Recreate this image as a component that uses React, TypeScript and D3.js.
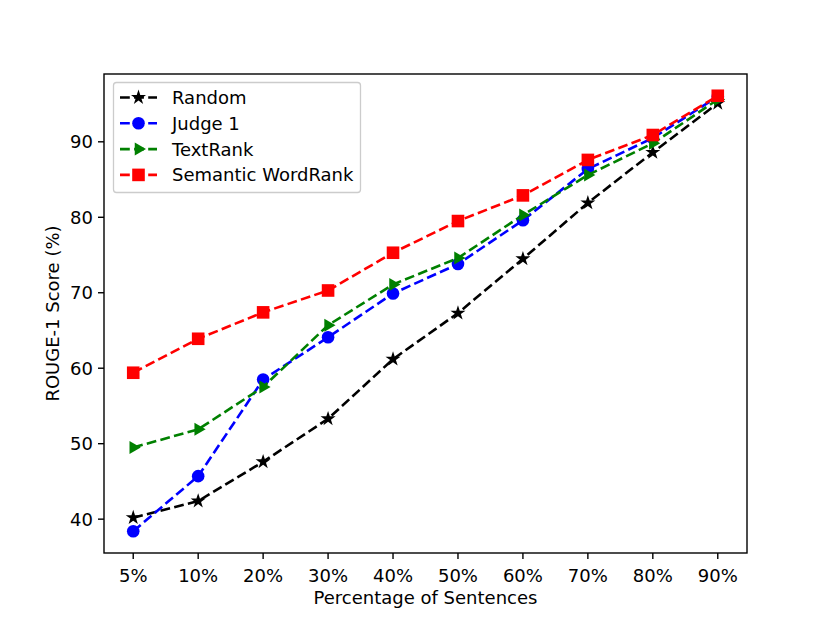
import React from "react";
import * as d3 from "d3";

const categories = ["5%", "10%", "20%", "30%", "40%", "50%", "60%", "70%", "80%", "90%"];
const randomScores = [40.2, 42.4, 47.6, 53.3, 61.2, 67.3, 74.5, 81.9, 88.6, 95.1];
const judge1Scores = [38.4, 45.7, 58.5, 64.1, 69.9, 73.8, 79.6, 86.4, 90.5, 96.0];
const textRankScores = [49.5, 51.9, 57.5, 65.7, 71.1, 74.6, 80.3, 85.6, 89.8, 95.6];
const semanticScores = [59.4, 63.9, 67.4, 70.3, 75.3, 79.5, 82.9, 87.6, 90.9, 96.1];
const yTicks = [40, 50, 60, 70, 80, 90];

const seriesList = [
  { name: "Random", values: randomScores, color: "#000000", marker: "star" },
  { name: "Judge 1", values: judge1Scores, color: "#0000ff", marker: "circle" },
  { name: "TextRank", values: textRankScores, color: "#008000", marker: "triangle" },
  { name: "Semantic WordRank", values: semanticScores, color: "#ff0000", marker: "square" },
];

const W = 830;
const H = 622;
const left = 104;
const right = 747;
const top = 74;
const bottom = 553;
const FONT = "'DejaVu Sans', sans-serif";
const FS = 18;

function Marker({ type, x, y, color }: { type: string; x: number; y: number; color: string }) {
  if (type === "circle") return <circle cx={x} cy={y} r={6.3} fill={color} />;
  if (type === "square") return <rect x={x - 6.3} y={y - 6.3} width={12.6} height={12.6} fill={color} />;
  if (type === "triangle") {
    const r = 7.5;
    return <path d={`M${x + r},${y} L${x - r * 0.5},${y - r * 0.866} L${x - r * 0.5},${y + r * 0.866} Z`} fill={color} />;
  }
  const p = d3.symbol().type(d3.symbolStar).size(70)();
  return <path d={p || ""} transform={`translate(${x},${y})`} fill={color} />;
}

export default function App() {
  const allVals = seriesList.flatMap((s) => s.values);
  const mn = d3.min(allVals)!;
  const mx = d3.max(allVals)!;
  const pad = (mx - mn) * 0.05;
  const x = d3.scaleLinear().domain([-0.45, categories.length - 1 + 0.45]).range([left, right]);
  const y = d3.scaleLinear().domain([mn - pad, mx + pad]).range([bottom, top]);
  const line = d3
    .line<number>()
    .x((_, i) => x(i))
    .y((d) => y(d));

  return (
    <svg width={W} height={H} style={{ display: "block", position: "absolute", left: 0, top: 0 }} fontFamily={FONT}>
      <rect width={W} height={H} fill="#fff" />
      {seriesList.map((s) => (
        <g key={s.name}>
          <path d={line(s.values) || ""} fill="none" stroke={s.color} strokeWidth={2.6} strokeDasharray="9.8,4.3" />
          {s.values.map((v, i) => (
            <Marker key={i} type={s.marker} x={x(i)} y={y(v)} color={s.color} />
          ))}
        </g>
      ))}
      <rect x={left} y={top} width={right - left} height={bottom - top} fill="none" stroke="#000" strokeWidth={1.4} />
      {categories.map((c, i) => (
        <g key={c}>
          <line x1={x(i)} x2={x(i)} y1={bottom} y2={bottom + 6} stroke="#000" strokeWidth={1.4} />
          <text x={x(i)} y={bottom + 29} textAnchor="middle" fontSize={FS} fill="#000">
            {c}
          </text>
        </g>
      ))}
      {yTicks.map((t) => (
        <g key={t}>
          <line x1={left - 6} x2={left} y1={y(t)} y2={y(t)} stroke="#000" strokeWidth={1.4} />
          <text x={left - 11} y={y(t)} dy="0.36em" textAnchor="end" fontSize={FS} fill="#000">
            {t}
          </text>
        </g>
      ))}
      <text x={(left + right) / 2} y={604} textAnchor="middle" fontSize={FS} fill="#000">
        Percentage of Sentences
      </text>
      <text transform={`translate(59,${(top + bottom) / 2}) rotate(-90)`} textAnchor="middle" fontSize={FS} fill="#000">
        ROUGE-1 Score (%)
      </text>
      <g>
        <rect x={113.5} y={82.5} width={247} height={110} rx={3} fill="#fff" fillOpacity={0.8} stroke="#cccccc" strokeWidth={1.3} />
        {seriesList.map((s, i) => {
          const ly = 97.5 + i * 25.8;
          return (
            <g key={s.name}>
              <line x1={120} x2={157} y1={ly} y2={ly} stroke={s.color} strokeWidth={2.6} strokeDasharray="9.8,4.3" />
              <Marker type={s.marker} x={138.5} y={ly} color={s.color} />
              <text x={172} y={ly} dy="0.36em" fontSize={FS} fill="#000">
                {s.name}
              </text>
            </g>
          );
        })}
      </g>
    </svg>
  );
}
